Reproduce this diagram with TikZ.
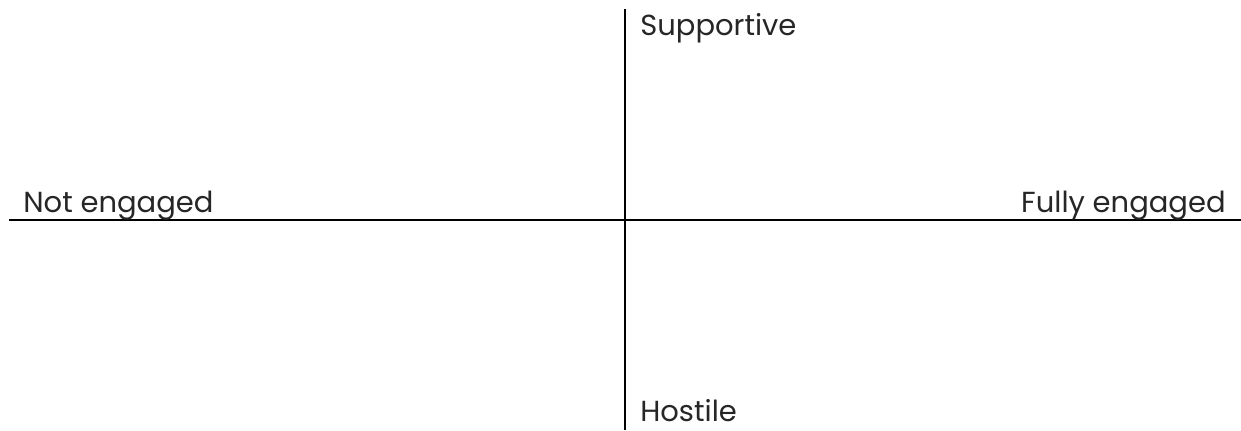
\documentclass[tikz,border=0pt]{standalone}
\usepackage{fontspec}
\setmainfont{Poppins}
\tikzset{
  axislabel/.style={inner sep=0pt, font=\fontsize{16.5}{19}\selectfont, text=black!85},
  axisline/.style={line width=1.4pt}
}
\begin{document}
\begin{tikzpicture}
    \useasboundingbox (0,0) rectangle (24.82,8.6);
    % axes
    \coordinate (left) at (0.18,4.2);
    \coordinate (right) at (24.82,4.2);
    \coordinate (top) at (12.5,8.42);
    \coordinate (bottom) at (12.5,0);
    \draw[axisline] (left) -- (right);
    \draw[axisline] (top) -- (bottom);

    \node[axislabel, anchor=base west] (supportive) at (12.8,7.88) {Supportive};
    \node[axislabel, anchor=base west] (hostile) at (12.8,0.18) {Hostile};
    \node[axislabel, anchor=base west] (notengaged) at (0.46,4.34) {Not engaged};
    \node[axislabel, anchor=base east] (fullyengaged) at (24.52,4.34) {Fully engaged};
\end{tikzpicture}
\end{document}
